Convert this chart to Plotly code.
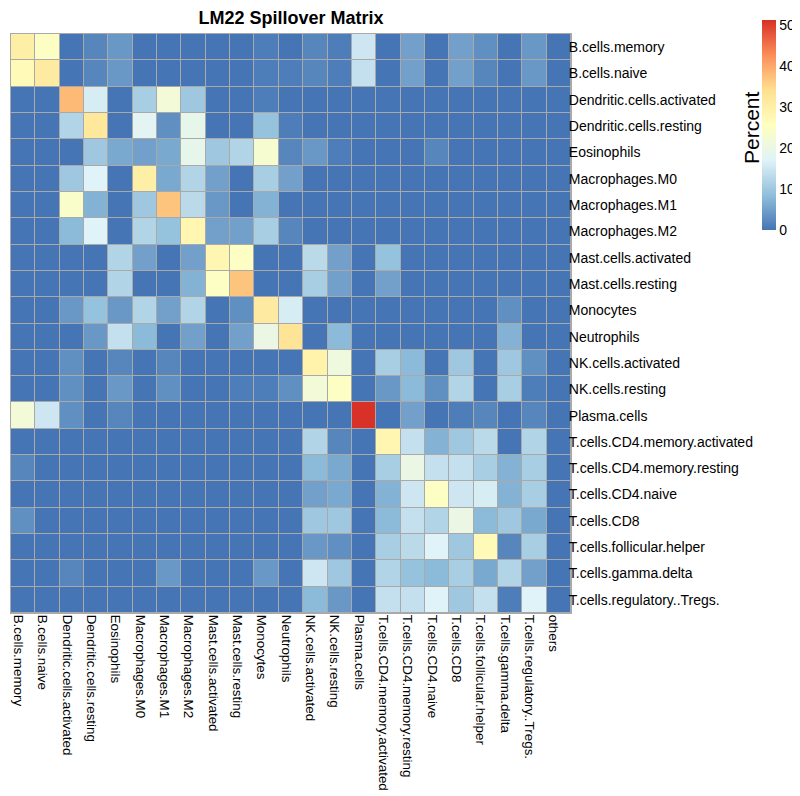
import plotly.graph_objects as go

row_labels = ["B.cells.memory", "B.cells.naive", "Dendritic.cells.activated", "Dendritic.cells.resting",
              "Eosinophils", "Macrophages.M0", "Macrophages.M1", "Macrophages.M2",
              "Mast.cells.activated", "Mast.cells.resting", "Monocytes", "Neutrophils",
              "NK.cells.activated", "NK.cells.resting", "Plasma.cells",
              "T.cells.CD4.memory.activated", "T.cells.CD4.memory.resting", "T.cells.CD4.naive",
              "T.cells.CD8", "T.cells.follicular.helper", "T.cells.gamma.delta",
              "T.cells.regulatory..Tregs."]
col_labels = row_labels + ["others"]

# percent values, one list per row (23 columns each)
values = [
    [30, 25, 0, 2, 4, 0, 0, 0, 0, 0, 1, 0, 2, 1, 15, 0, 5, 0, 5, 3, 0, 4, 0],
    [27, 31, 0, 2, 4, 0, 0, 0, 0, 0, 1, 1, 2, 1, 14, 0, 5, 0, 5, 2, 0, 4, 0],
    [0, 0, 38, 16, 0, 11, 22, 10, 0, 0, 1, 0, 0, 0, 0, 0, 0, 0, 0, 0, 0, 0, 0],
    [0, 0, 12, 32, 0, 18, 3, 19, 0, 0, 9, 1, 0, 0, 0, 0, 0, 0, 0, 0, 0, 0, 0],
    [0, 0, 0, 10, 6, 5, 6, 19, 10, 12, 23, 2, 4, 1, 0, 0, 0, 2, 0, 0, 0, 0, 0],
    [0, 0, 10, 17, 0, 30, 6, 12, 5, 0, 11, 5, 0, 0, 0, 0, 0, 0, 0, 0, 0, 0, 0],
    [0, 0, 24, 7, 0, 10, 37, 13, 4, 0, 7, 0, 0, 0, 0, 0, 0, 0, 0, 0, 0, 0, 0],
    [0, 0, 8, 17, 0, 12, 9, 28, 5, 5, 11, 2, 0, 0, 0, 0, 0, 0, 0, 0, 0, 0, 0],
    [0, 0, 0, 0, 12, 5, 0, 5, 28, 25, 0, 0, 13, 5, 0, 9, 0, 0, 0, 0, 0, 0, 0],
    [0, 0, 0, 0, 12, 0, 0, 7, 25, 37, 0, 0, 11, 5, 0, 5, 0, 0, 0, 0, 0, 0, 0],
    [0, 0, 4, 9, 4, 12, 5, 12, 0, 3, 31, 16, 0, 0, 0, 0, 0, 0, 0, 0, 3, 0, 0],
    [0, 0, 0, 4, 14, 8, 0, 5, 0, 5, 20, 33, 0, 8, 0, 0, 0, 0, 0, 0, 7, 0, 0],
    [0, 0, 3, 0, 2, 0, 2, 0, 0, 0, 0, 0, 29, 21, 0, 11, 8, 0, 10, 0, 10, 3, 0],
    [0, 0, 3, 0, 4, 0, 3, 0, 0, 1, 1, 3, 22, 25, 0, 4, 8, 3, 12, 0, 11, 1, 0],
    [22, 15, 3, 0, 2, 0, 0, 0, 0, 0, 0, 0, 0, 0, 51, 0, 5, 0, 1, 2, 0, 2, 0],
    [0, 0, 0, 0, 0, 0, 0, 0, 0, 0, 0, 0, 12, 2, 0, 28, 14, 7, 10, 13, 0, 12, 0],
    [2, 0, 0, 0, 0, 0, 0, 0, 0, 0, 0, 0, 8, 6, 0, 11, 20, 14, 14, 11, 7, 11, 0],
    [0, 0, 0, 0, 0, 0, 0, 0, 0, 0, 0, 0, 5, 6, 0, 7, 15, 25, 15, 16, 7, 11, 0],
    [3, 0, 0, 0, 0, 0, 0, 0, 0, 0, 0, 0, 10, 10, 0, 8, 14, 12, 20, 8, 10, 6, 0],
    [0, 0, 0, 0, 0, 0, 0, 0, 0, 0, 0, 0, 4, 3, 0, 11, 13, 17, 10, 27, 2, 11, 0],
    [0, 0, 2, 0, 0, 0, 4, 0, 0, 0, 4, 0, 15, 10, 0, 12, 9, 8, 11, 6, 12, 5, 0],
    [0, 0, 0, 0, 0, 0, 0, 0, 0, 0, 0, 0, 8, 4, 0, 14, 14, 17, 10, 14, 1, 17, 0],
]
cbar_ticks = [0, 10, 20, 30, 40, 50]

palette = ["#4575B4", "#91BFDB", "#E0F3F8", "#FFFFBF", "#FEE090", "#FC8D59", "#D73027"]
colorscale = [[i / (len(palette) - 1), c] for i, c in enumerate(palette)]

W, H = 800, 796
left, right, top, bottom = 3, 563, 26, 605
FONT = "Liberation Sans, Arial, Helvetica, sans-serif"

fig = go.Figure(go.Heatmap(
    z=values, x=col_labels, y=row_labels,
    colorscale=colorscale, zmin=0, zmax=51.2,
    xgap=1, ygap=1, hoverinfo="skip",
    colorbar=dict(
        xref="container", yref="container",
        x=754 / W, xanchor="left", y=1 - 17 / H, yanchor="top",
        lenmode="pixels", len=210, thickness=14,
        tickvals=cbar_ticks, ticktext=[str(t) for t in cbar_ticks],
        ticks="", outlinewidth=0, xpad=0, ypad=0,
        tickfont=dict(size=14, color="black", family=FONT),
    ),
))

fig.update_layout(
    width=W, height=H,
    margin=dict(l=left, r=W - right, t=top, b=H - bottom),
    paper_bgcolor="white", plot_bgcolor="#A9A9A9",
    font=dict(family=FONT, color="black", size=13),
    title=dict(text="<b>LM22 Spillover Matrix</b>", x=0.5, xref="paper",
               y=1 - 10 / H, yref="container", yanchor="middle", font=dict(size=18, color="black")),
    xaxis=dict(tickangle=90, ticks="", showgrid=False, zeroline=False,
               showline=True, mirror=True, linecolor="#A9A9A9", linewidth=1,
               ticklabelstandoff=-2, ticklabelshift=-5, tickfont=dict(size=13.4)),
    yaxis=dict(side="right", autorange="reversed", ticks="", showgrid=False, zeroline=False,
               showline=True, mirror=True, linecolor="#A9A9A9", linewidth=1,
               ticklabelstandoff=-6, tickfont=dict(size=14)),
    annotations=[dict(text="Percent", textangle=-90, xref="paper", yref="paper",
                      x=(744 - left) / (right - left), y=(bottom - 120) / (bottom - top),
                      xanchor="center", yanchor="middle", showarrow=False,
                      font=dict(size=21, color="black"))],
)

fig.write_html("out.html")
